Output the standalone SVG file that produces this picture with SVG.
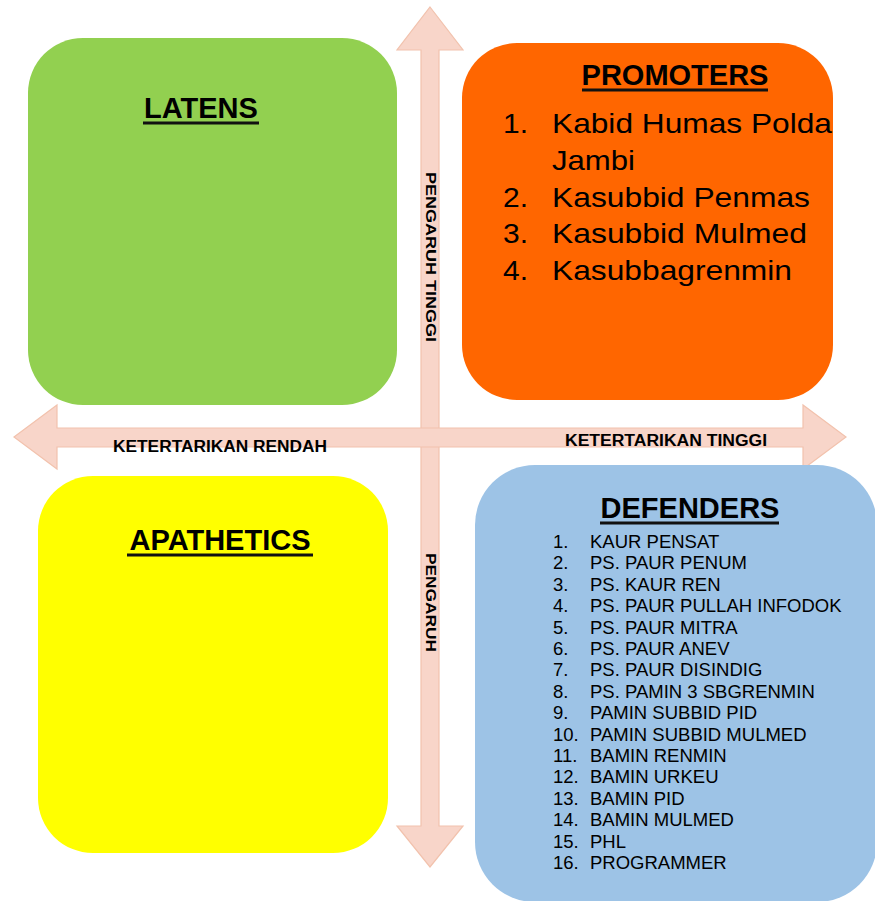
<svg xmlns="http://www.w3.org/2000/svg" width="875" height="901" viewBox="0 0 875 901">
  <style>
    .axis { fill: #f8d5c9; stroke: #f2c2ad; stroke-width: 1.2; }
    .title { font-family: "Liberation Sans", Arial, sans-serif; font-weight: bold; font-size: 29px; fill: #000; }
    .uline { stroke: #111; stroke-width: 3; }
    .promo { font-family: "Liberation Sans", Arial, sans-serif; font-size: 28px; fill: #000; }
    .def { font-family: "Liberation Sans", Arial, sans-serif; font-size: 18.5px; fill: #000; }
    .axlbl { font-family: "Liberation Sans", Arial, sans-serif; font-weight: bold; fill: #000; }
  </style>
  <rect width="875" height="901" fill="#ffffff"/>

  <!-- axes: vertical (pengaruh) and horizontal (ketertarikan) double arrows -->
  <g id="connectors">
    <polygon class="axis" points="430,7 463,50 439,50 439,826 463,826 430,867 397,826 421,826 421,50 397,50"/>
    <polygon class="axis" points="14,437 57,405 57,428 803,428 803,405 846,437 803,469 803,447 57,447 57,469"/>
    <text class="axlbl" font-size="15" transform="translate(426,172) rotate(90)" textLength="170" lengthAdjust="spacingAndGlyphs">PENGARUH TINGGI</text>
    <text class="axlbl" font-size="15" transform="translate(426,553) rotate(90)" textLength="99" lengthAdjust="spacingAndGlyphs">PENGARUH</text>
    <text class="axlbl" font-size="16" x="113" y="452" textLength="214" lengthAdjust="spacingAndGlyphs">KETERTARIKAN RENDAH</text>
    <text class="axlbl" font-size="16" x="565" y="446" textLength="202" lengthAdjust="spacingAndGlyphs">KETERTARIKAN TINGGI</text>
  </g>

  <!-- LATENS quadrant -->
  <g id="latens">
    <rect x="28" y="38" width="369" height="367" rx="55" fill="#92d050"/>
    <text class="title" x="201" y="118" text-anchor="middle">LATENS</text>
    <line class="uline" x1="143" y1="123" x2="259" y2="123"/>
  </g>

  <!-- PROMOTERS quadrant -->
  <g id="promoters">
    <rect x="462" y="43" width="371" height="357" rx="55" fill="#ff6600"/>
    <text class="title" x="675" y="85" text-anchor="middle">PROMOTERS</text>
    <line class="uline" x1="582" y1="90" x2="768" y2="90"/>
    <text class="promo" x="503" y="133" textLength="25" lengthAdjust="spacingAndGlyphs">1.</text>
    <text class="promo" x="552" y="133" textLength="280" lengthAdjust="spacingAndGlyphs">Kabid Humas Polda</text>
    <text class="promo" x="552" y="170" textLength="83" lengthAdjust="spacingAndGlyphs">Jambi</text>
    <text class="promo" x="503" y="207" textLength="25" lengthAdjust="spacingAndGlyphs">2.</text>
    <text class="promo" x="552" y="207" textLength="258" lengthAdjust="spacingAndGlyphs">Kasubbid Penmas</text>
    <text class="promo" x="503" y="243" textLength="25" lengthAdjust="spacingAndGlyphs">3.</text>
    <text class="promo" x="552" y="243" textLength="255" lengthAdjust="spacingAndGlyphs">Kasubbid Mulmed</text>
    <text class="promo" x="503" y="280" textLength="25" lengthAdjust="spacingAndGlyphs">4.</text>
    <text class="promo" x="552" y="280" textLength="240" lengthAdjust="spacingAndGlyphs">Kasubbagrenmin</text>
  </g>

  <!-- APATHETICS quadrant -->
  <g id="apathetics">
    <rect x="38" y="476" width="350" height="377" rx="55" fill="#ffff00"/>
    <text class="title" x="220" y="550" text-anchor="middle">APATHETICS</text>
    <line class="uline" x1="127" y1="555" x2="313" y2="555"/>
  </g>

  <!-- DEFENDERS quadrant -->
  <g id="defenders">
    <rect x="475" y="465" width="402" height="437" rx="60" fill="#9dc3e6"/>
    <text class="title" x="690" y="518" text-anchor="middle">DEFENDERS</text>
    <line class="uline" x1="600" y1="523" x2="779" y2="523"/>
    <g class="def">
      <text x="553" y="548">1.</text><text x="590" y="548">KAUR PENSAT</text>
      <text x="553" y="569.4">2.</text><text x="590" y="569.4">PS. PAUR PENUM</text>
      <text x="553" y="590.8">3.</text><text x="590" y="590.8">PS. KAUR REN</text>
      <text x="553" y="612.2">4.</text><text x="590" y="612.2">PS. PAUR PULLAH INFODOK</text>
      <text x="553" y="633.6">5.</text><text x="590" y="633.6">PS. PAUR MITRA</text>
      <text x="553" y="655">6.</text><text x="590" y="655">PS. PAUR ANEV</text>
      <text x="553" y="676.4">7.</text><text x="590" y="676.4">PS. PAUR DISINDIG</text>
      <text x="553" y="697.8">8.</text><text x="590" y="697.8">PS. PAMIN 3 SBGRENMIN</text>
      <text x="553" y="719.2">9.</text><text x="590" y="719.2">PAMIN SUBBID PID</text>
      <text x="553" y="740.6">10.</text><text x="590" y="740.6">PAMIN SUBBID MULMED</text>
      <text x="553" y="762">11.</text><text x="590" y="762">BAMIN RENMIN</text>
      <text x="553" y="783.4">12.</text><text x="590" y="783.4">BAMIN URKEU</text>
      <text x="553" y="804.8">13.</text><text x="590" y="804.8">BAMIN PID</text>
      <text x="553" y="826.2">14.</text><text x="590" y="826.2">BAMIN MULMED</text>
      <text x="553" y="847.6">15.</text><text x="590" y="847.6">PHL</text>
      <text x="553" y="869">16.</text><text x="590" y="869">PROGRAMMER</text>
    </g>
  </g>
</svg>
